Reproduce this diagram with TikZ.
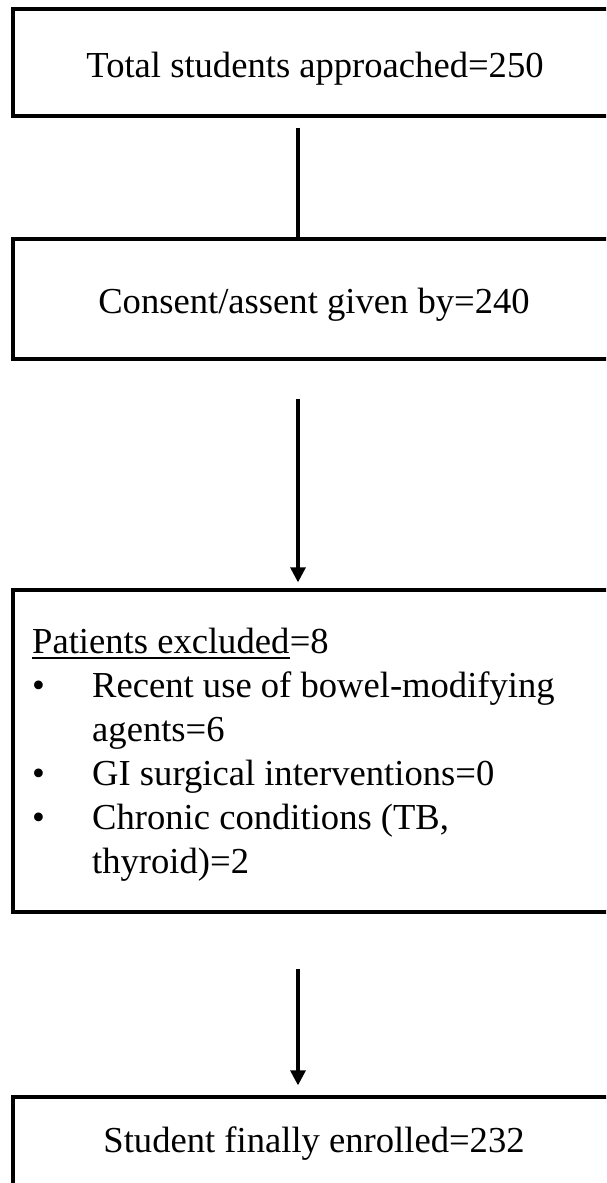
\documentclass[tikz,border=0pt]{standalone}
\usepackage{fontspec}
\setmainfont{Liberation Serif}
\usetikzlibrary{arrows.meta,calc}
\begin{document}
\begin{tikzpicture}[x=1pt,y=1pt,
  box/.style={draw=black,line width=3.3pt,inner sep=0pt,minimum width=627pt,rectangle},
  txt/.style={inner sep=0pt,font=\fontsize{36.6pt}{44pt}\selectfont},
  conn/.style={line width=3.2pt,draw=black},
  arr/.style={conn,-{Triangle[length=15pt,width=15pt]}}]
\useasboundingbox (0,0) rectangle (606,-1183);
\clip (0,0) rectangle (606,-1183);
% boxes
\node[box,minimum height=107pt] (b1) at (326.5,-62.5) {};
\node[box,minimum height=120pt] (b2) at (326.5,-299) {};
\node[box,minimum height=322pt] (b3) at (326.5,-751) {};
\node[box,minimum height=120pt] (b4) at (326.5,-1157) {};
% texts
\node[txt,anchor=base] (t1) at (315,-77) {Total students approached=250};
\node[txt,anchor=base] (t2) at (314,-313) {Consent/assent given by=240};
\node[txt,anchor=base] (t4) at (314,-1152) {Student finally enrolled=232};
\node[txt,anchor=base west] (ex) at (32,-653) {Patients excluded};
\node[txt,anchor=base west] (ex8) at (ex.base east) {=8};
\draw[line width=1.6pt] ($(ex.base west)+(0,-5)$) -- ($(ex.base east)+(0,-5)$);
\node[txt,anchor=base west] (bu1) at (32,-697) {•};
\node[txt,anchor=base west] (l1) at (92,-697) {Recent use of bowel-modifying};
\node[txt,anchor=base west] (l2) at (92,-741) {agents=6};
\node[txt,anchor=base west] (bu2) at (32,-785) {•};
\node[txt,anchor=base west] (l3) at (92,-785) {GI surgical interventions=0};
\node[txt,anchor=base west] (bu3) at (32,-829) {•};
\node[txt,anchor=base west] (l4) at (92,-829) {Chronic conditions (TB,};
\node[txt,anchor=base west] (l5) at (92,-873) {thyroid)=2};
% connectors
\draw[conn] ($(b1.south)+(-28.5,-10)$) -- ($(b2.north)+(-28.5,0)$);
\draw[arr] ($(b2.south)+(-28.5,-38)$) -- ($(b3.north)+(-28.5,6)$);
\draw[arr] ($(b3.south)+(-28.5,-55)$) -- ($(b4.north)+(-28.5,10)$);
\end{tikzpicture}
\end{document}
